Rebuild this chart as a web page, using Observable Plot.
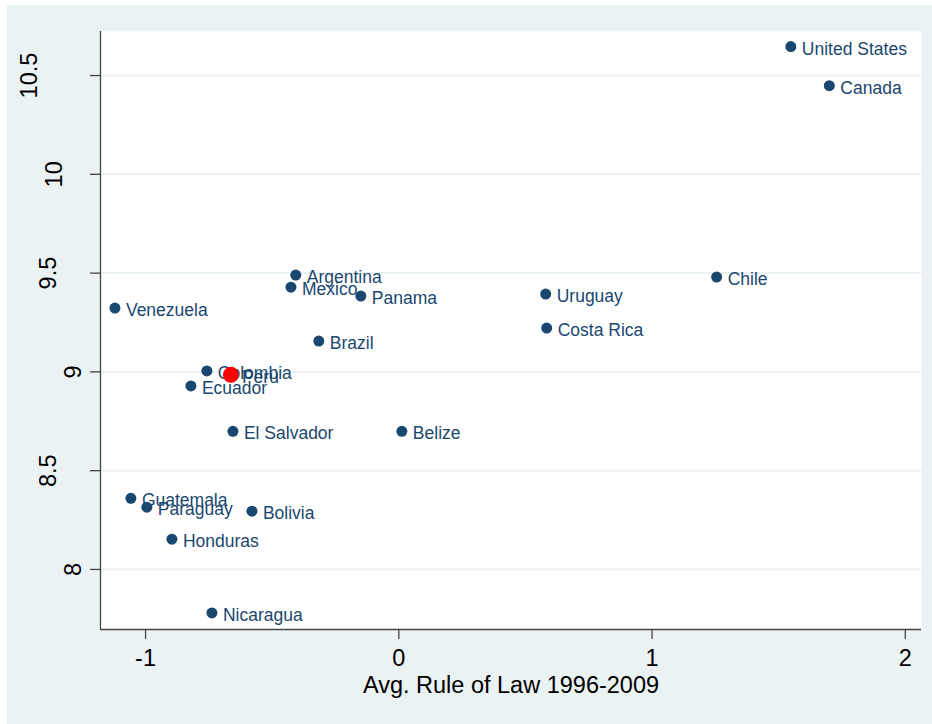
<!DOCTYPE html>
<html><head><meta charset="utf-8">
<script src="https://cdn.jsdelivr.net/npm/d3@7"></script>
<script src="https://cdn.jsdelivr.net/npm/@observablehq/plot@0.6"></script>
<style>
body{margin:0;background:#fff;}
#chart{position:absolute;left:7px;top:5px;}
</style></head><body><div id="chart"></div>
<script>
const countries = ["United States","Canada","Chile","Uruguay","Costa Rica","Argentina","Mexico","Panama","Brazil","Venezuela","Colombia","Peru","Ecuador","El Salvador","Belize","Guatemala","Paraguay","Bolivia","Honduras","Nicaragua"];
const ruleOfLaw = [1.548, 1.700, 1.255, 0.580, 0.584, -0.407, -0.426, -0.150, -0.316, -1.121, -0.758, -0.663, -0.821, -0.655, 0.012, -1.058, -0.995, -0.580, -0.896, -0.738];
const logGdp = [10.647, 10.449, 9.480, 9.394, 9.222, 9.490, 9.429, 9.384, 9.156, 9.323, 9.005, 8.985, 8.929, 8.699, 8.699, 8.360, 8.315, 8.295, 8.153, 7.780];
const highlighted = ["Peru"];
const xTicks = [-1, 0, 1, 2];
// y tick labels, grouped by the row they sit in (Stata "alternate" layout)
const yTicksA = [8, 9];
const yTicksB = [10];
const yTicksC = [8.5, 9.5];
const yTicksD = [10.5];
const xDomain = [-1.178, 2.064];
const yDomain = [7.696, 10.723];
const xTitle = "Avg. Rule of Law 1996-2009";

const data = countries.map((c, i) => ({country: c, x: ruleOfLaw[i], y: logGdp[i]}));
const navy = "#1a476f";
const axisColor = "#444";
const fmt = d => String(d);
const yAxis = (ticks, pad) => Plot.axisY(ticks, {tickSize: 10, tickPadding: pad, tickRotate: -90, fontSize: 23.5, stroke: axisColor, strokeWidth: 1.3, fill: "#000", label: null, tickFormat: fmt});

const plot = Plot.plot({
  width: 925, height: 719,
  marginLeft: 93, marginTop: 26, marginRight: 11, marginBottom: 95,
  style: {background: "#eaf2f3", fontFamily: "'Liberation Sans', Arial, sans-serif", color: "#000", overflow: "visible"},
  x: {domain: xDomain},
  y: {domain: yDomain},
  marks: [
    Plot.frame({fill: "white", stroke: "none"}),
    Plot.gridY([...yTicksA, ...yTicksB, ...yTicksC, ...yTicksD], {stroke: "#eaf2f3", strokeOpacity: 1, strokeWidth: 2}),
    Plot.axisX(xTicks, {tickSize: 10, tickPadding: 10, fontSize: 23.5, stroke: axisColor, strokeWidth: 1.3, fill: "#000", label: null, tickFormat: fmt}),
    yAxis(yTicksA, 10),
    yAxis(yTicksB, 29),
    yAxis(yTicksC, 35),
    yAxis(yTicksD, 54),
    Plot.ruleX([xDomain[0]], {stroke: axisColor, strokeWidth: 1.3}),
    Plot.ruleY([yDomain[0]], {stroke: axisColor, strokeWidth: 1.3}),
    Plot.dot(data, {x: "x", y: "y", r: 5.5, fill: navy, stroke: "none"}),
    Plot.text(data, {x: "x", y: "y", text: "country", textAnchor: "start", dx: 11, dy: 2.5, fill: navy, fontSize: 17.5}),
    Plot.dot(data.filter(d => highlighted.includes(d.country)), {x: "x", y: "y", r: 8, fill: "#ff0000", stroke: "none"}),
    Plot.text([xTitle], {text: d => d, frameAnchor: "bottom", lineAnchor: "bottom", dy: 63, fontSize: 23.5, fill: "#000"})
  ]
});
document.getElementById("chart").appendChild(plot);
</script></body></html>
